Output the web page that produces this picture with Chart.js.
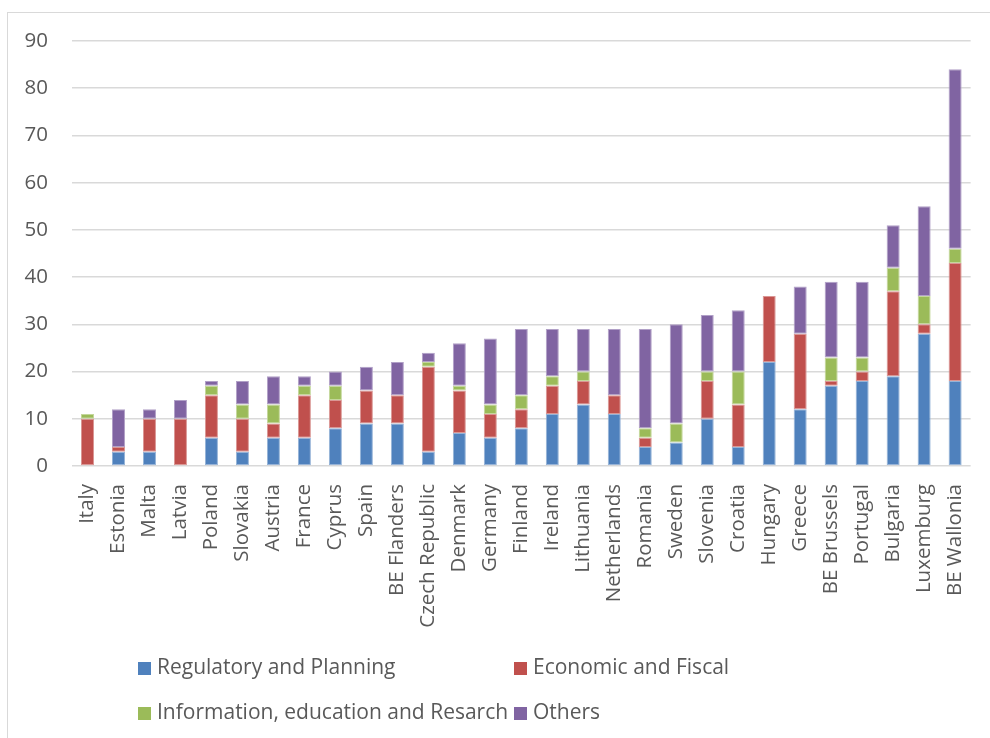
<!DOCTYPE html>
<html>
<head>
<meta charset="utf-8">
<script src="https://cdn.jsdelivr.net/npm/chart.js@4/dist/chart.umd.min.js"></script>
<style>
  html, body { margin: 0; padding: 0; background: #fff; }
  #wrap { position: relative; width: 990px; height: 738px; overflow: hidden; }
  #frame { position: absolute; left: 7px; top: 12px; width: 1000px; height: 800px; border-left: 1.5px solid #d9d9d9; border-top: 1.5px solid #d9d9d9; box-sizing: border-box; }
  canvas { position: absolute; left: 0; top: 0; }
  .leg { position: absolute; font-family: "Open Sans", sans-serif; font-size: 21px; color: #595959; white-space: nowrap; line-height: 26px; }
  .leg span.box { display: inline-block; width: 13px; height: 13px; margin-right: 6px; vertical-align: -1px; }
</style>
</head>
<body>
<div id="wrap">
  <div id="frame"></div>
  <canvas id="c" width="990" height="738"></canvas>
  <div id="legend"></div>
</div>
<script>
const categories = ["Italy","Estonia","Malta","Latvia","Poland","Slovakia","Austria","France","Cyprus","Spain","BE Flanders","Czech Republic","Denmark","Germany","Finland","Ireland","Lithuania","Netherlands","Romania","Sweden","Slovenia","Croatia","Hungary","Greece","BE Brussels","Portugal","Bulgaria","Luxemburg","BE Wallonia"];
const regulatory  = [0,3,3,0,6,3,6,6,8,9,9,3,7,6,8,11,13,11,4,5,10,4,22,12,17,18,19,28,18];
const economic    = [10,1,7,10,9,7,3,9,6,7,6,18,9,5,4,6,5,4,2,0,8,9,14,16,1,2,18,2,25];
const information = [1,0,0,0,2,3,4,2,3,0,0,1,1,2,3,2,2,0,2,4,2,7,0,0,5,3,5,6,3];
const others      = [0,8,2,4,1,5,6,2,3,5,7,2,9,14,14,10,9,14,21,21,12,13,0,10,16,16,9,19,38];
const seriesNames = ["Regulatory and Planning","Economic and Fiscal","Information, education and Resarch","Others"];
const yTicks = [0,10,20,30,40,50,60,70,80,90];

const colors = ["#4F81BD","#C0504D","#9BBB59","#8064A2"];
const borders = ["#95B3D7","#DA9694","#C4D79B","#B1A0C7"];
const values = [regulatory, economic, information, others];
const FONT = "'Open Sans', sans-serif";

const chart = new Chart(document.getElementById('c'), {
  type: 'bar',
  data: {
    labels: categories,
    datasets: seriesNames.map((n, i) => ({
      label: n,
      data: values[i],
      backgroundColor: colors[i],
      borderColor: borders[i],
      borderWidth: 1,
      borderSkipped: false,
      categoryPercentage: 1,
      barPercentage: 0.42
    }))
  },
  options: {
    responsive: false,
    animation: false,
    layout: { padding: { left: 8, right: 16, top: 41, bottom: 0 } },
    plugins: { legend: { display: false }, tooltip: { enabled: false } },
    scales: {
      x: {
        stacked: true,
        grid: { display: false },
        border: { display: false },
        ticks: { color: '#595959', font: { family: FONT, size: 20.5 }, minRotation: 90, maxRotation: 90, padding: 10, autoSkip: false },
        afterFit: s => { s.height = 272; }
      },
      y: {
        stacked: true,
        min: 0, max: 90,
        afterBuildTicks: s => { s.ticks = yTicks.map(v => ({ value: v })); },
        grid: { color: '#d9d9d9', lineWidth: 1.5, drawTicks: false },
        border: { display: false },
        ticks: { color: '#595959', font: { family: FONT, size: 20.5 }, padding: 24 },
        afterFit: s => { s.width = 64; }
      }
    }
  }
});

const legPos = [[138,653],[514,653],[138,698],[514,698]];
const lg = document.getElementById('legend');
seriesNames.forEach((n, i) => {
  const d = document.createElement('div');
  d.className = 'leg';
  d.style.left = legPos[i][0] + 'px';
  d.style.top = legPos[i][1] + 'px';
  d.innerHTML = '<span class="box" style="background:' + colors[i] + '"></span>' + n;
  lg.appendChild(d);
});
</script>
</body>
</html>
